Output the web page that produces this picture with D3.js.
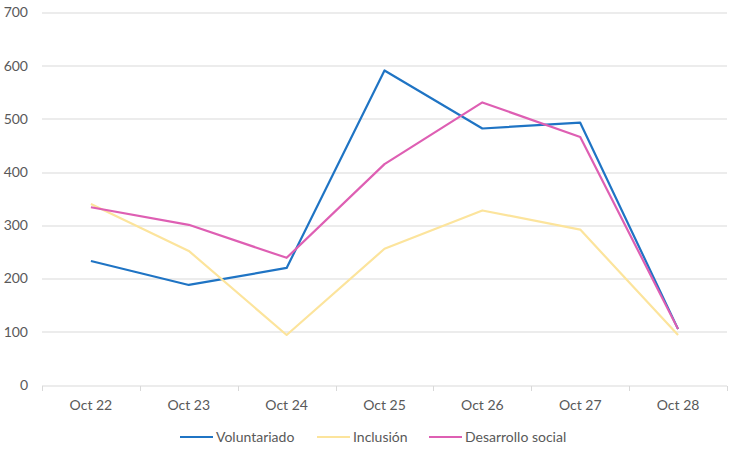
<!DOCTYPE html>
<html>
<head>
<meta charset="utf-8">
<script src="https://cdn.jsdelivr.net/npm/d3@7"></script>
<style>
  body { margin: 0; background: #fff; }
  svg { font-family: Lato, "Open Sans", "Liberation Sans", sans-serif; }
</style>
</head>
<body>
<svg id="chart" width="742" height="455"></svg>
<script>
const categories = ['Oct 22', 'Oct 23', 'Oct 24', 'Oct 25', 'Oct 26', 'Oct 27', 'Oct 28'];
const voluntariado = [233, 188, 220, 591, 482, 493, 105];
const inclusion = [340, 252, 94, 256, 328, 292, 94];
const desarrolloSocial = [334, 301, 239, 415, 531, 466, 105];
const seriesNames = ['Voluntariado', 'Inclusión', 'Desarrollo social'];
const yTicks = [0, 100, 200, 300, 400, 500, 600, 700];

const colours = ['#1F74C4', '#FCE49C', '#DE5FB3'];

const svg = d3.select('#chart');
const margin = { top: 12.5, right: 15, bottom: 70, left: 42 };
const width = 742 - margin.left - margin.right;
const height = 455 - margin.top - margin.bottom;

const g = svg.append('g').attr('transform', `translate(${margin.left},${margin.top})`);

const x = d3.scaleBand().domain(categories).range([0, width]);
const y = d3.scaleLinear().domain([0, 700]).range([height, 0]);

// gridlines
g.selectAll('line.grid')
    .data(yTicks)
    .enter()
    .append('line')
    .attr('class', 'grid')
    .attr('x1', 0)
    .attr('x2', width)
    .attr('y1', d => Math.round(y(d)) + 0.5)
    .attr('y2', d => Math.round(y(d)) + 0.5)
    .attr('stroke', '#d9d9d9')
    .attr('stroke-width', 1);

// y labels
g.selectAll('text.ylab')
    .data(yTicks)
    .enter()
    .append('text')
    .attr('class', 'ylab')
    .attr('x', -14)
    .attr('y', d => y(d))
    .attr('dy', '0.35em')
    .attr('text-anchor', 'end')
    .attr('fill', '#595959')
    .attr('font-size', '14px')
    .text(d => d);

// x axis ticks at band edges
const edges = categories.map(c => x(c)).concat([width]);
g.selectAll('line.xtick')
    .data(edges)
    .enter()
    .append('line')
    .attr('class', 'xtick')
    .attr('x1', d => Math.round(d) + 0.5)
    .attr('x2', d => Math.round(d) + 0.5)
    .attr('y1', Math.round(height) + 0.5)
    .attr('y2', Math.round(height) + 5.5)
    .attr('stroke', '#d9d9d9');

g.selectAll('text.xlab')
    .data(categories)
    .enter()
    .append('text')
    .attr('class', 'xlab')
    .attr('x', d => x(d) + x.bandwidth() / 2)
    .attr('y', height + 25)
    .attr('text-anchor', 'middle')
    .attr('fill', '#595959')
    .attr('font-size', '14px')
    .text(d => d);

// lines
const line = d3.line()
    .x((d, i) => x(categories[i]) + x.bandwidth() / 2)
    .y(d => y(d));

const allSeries = [voluntariado, inclusion, desarrolloSocial];
g.selectAll('path.series')
    .data(allSeries)
    .enter()
    .append('path')
    .attr('class', 'series')
    .attr('d', d => line(d))
    .attr('fill', 'none')
    .attr('stroke', (d, i) => colours[i])
    .attr('stroke-width', 2.2)
    .attr('stroke-linejoin', 'round');

// legend
const legendX = [180, 317, 429];
const legendY = 437;
const legend = svg.selectAll('g.legend')
    .data(seriesNames)
    .enter()
    .append('g')
    .attr('class', 'legend')
    .attr('transform', (d, i) => `translate(${legendX[i]}, ${legendY})`);

legend.append('line')
    .attr('x1', 0)
    .attr('x2', 33)
    .attr('y1', 0)
    .attr('y2', 0)
    .attr('stroke', (d, i) => colours[i])
    .attr('stroke-width', 2.2);

legend.append('text')
    .attr('x', 36)
    .attr('y', 0)
    .attr('dy', '0.35em')
    .attr('fill', '#595959')
    .attr('font-size', '14px')
    .text(d => d);
</script>
</body>
</html>
